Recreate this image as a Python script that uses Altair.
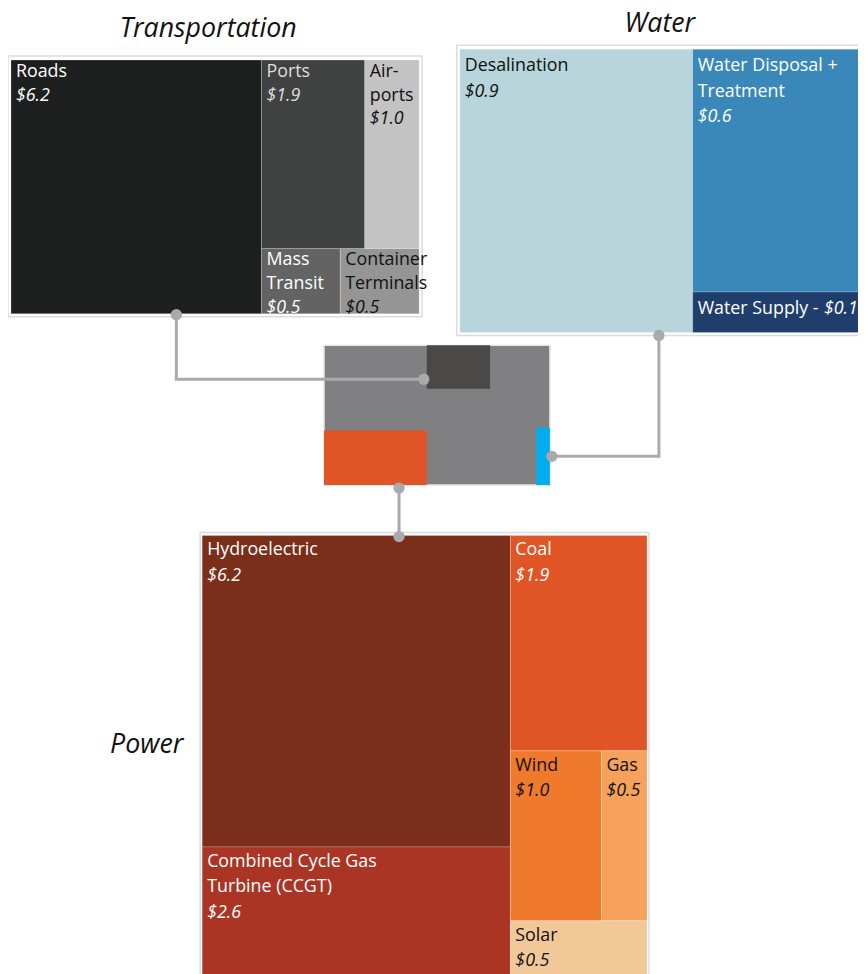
import altair as alt
import pandas as pd

# ---------------- data ----------------
transport_names = ["Roads", "Ports", "Air-\nports", "Mass\nTransit", "Container\nTerminals"]
transport_values = [6.2, 1.9, 1.0, 0.5, 0.5]

water_names = ["Desalination", "Water Disposal +\nTreatment", "Water Supply - "]
water_values = [0.9, 0.6, 0.1]

power_names = ["Hydroelectric", "Combined Cycle Gas\nTurbine (CCGT)", "Coal", "Wind", "Gas", "Solar"]
power_values = [6.2, 2.6, 1.9, 1.0, 0.5, 0.5]

# overview treemap (highlighted sectors among other, grey, sectors)
overview_names = ["Other 1", "Power", "Transportation", "Other 2", "Other 3", "Other 4", "Water"]
overview_values = [89, 57, 28, 62, 50, 27, 8]

section_titles = ["Transportation", "Water", "Power"]

# ---------------- styles ----------------
transport_colors = ["#1e1f1f", "#404141", "#c3c3c3", "#636363", "#959595"]
transport_text = ["#ffffff", "#dedede", "#111111", "#ffffff", "#111111"]
water_colors = ["#b7d5da", "#3a87b9", "#1f3e6c"]
water_text = ["#111111", "#ffffff", "#ffffff"]
power_colors = ["#7b2e19", "#aa3524", "#e05526", "#f07a2b", "#f6a25c", "#f3c898"]
power_text = ["#ffffff", "#ffffff", "#ffffff", "#111111", "#111111", "#111111"]
OTHER = "#808083"
overview_colors = [OTHER, "#e05526", "#4a4948", OTHER, OTHER, OTHER, "#00aeef"]

# tree structure (indices) for slice-and-dice layouts, root split horizontally
transport_tree = [0, [[1, 2], [3, 4]]]
water_tree = [0, [1, 2]]
power_tree = [[0, 1], [2, [3, 4], 5]]
overview_tree = [[0, 1], [2, 3], [4, [5, 6]]]

# boxes (x0, y0, x1, y1) in page pixels
transport_box = (11, 56, 423, 312)
water_box = (464, 45, 882, 331)
power_box = (204, 536, 653, 982)
overview_box = (327, 344, 555, 485)

W, H = 858, 966
X0, Y0 = 8, 8
FONT = "Open Sans"
FS = 18


def total(t, vals):
    if isinstance(t, int):
        return vals[t]
    return sum(total(c, vals) for c in t)


def layout(t, vals, x0, y0, x1, y1, horiz, out):
    if isinstance(t, int):
        out[t] = (x0, y0, x1, y1)
        return
    tots = [total(c, vals) for c in t]
    s = sum(tots)
    pos = x0 if horiz else y0
    span = (x1 - x0) if horiz else (y1 - y0)
    for c, tv in zip(t, tots):
        size = span * tv / s
        if horiz:
            layout(c, vals, pos, y0, pos + size, y1, False, out)
        else:
            layout(c, vals, x0, pos, x1, pos + size, True, out)
        pos += size


def boxes(tree, vals, box):
    out = {}
    layout(tree, vals, *box, True, out)
    return [out[i] for i in range(len(vals))]


tb = boxes(transport_tree, transport_values, transport_box)
wb = boxes(water_tree, water_values, water_box)
pb = boxes(power_tree, power_values, power_box)
ob = boxes(overview_tree, overview_values, overview_box)

rect_rows, name_rows, val_rows = [], [], []
for names, vals, bx, cols, tcols, top, lh in [
    (transport_names, transport_values, tb, transport_colors, transport_text, 17, 24),
    (water_names, water_values, wb, water_colors, water_text, 22, 26),
    (power_names, power_values, pb, power_colors, power_text, 20, 26),
]:
    for n, v, b, c, tc in zip(names, vals, bx, cols, tcols):
        rect_rows.append(dict(x=b[0], x2=b[2], y=b[1], y2=b[3], color=c))
        nlines = n.count("\n") + 1
        name_rows.append(dict(x=b[0] + 5, y=b[1] + top, label=n, color=tc, lh=lh))
        if n.endswith(" - "):
            val_rows.append(dict(x=b[0] + 5 + len(n) * 8.5, y=b[1] + top,
                                 label=f"${v:.1f}", color=tc))
        else:
            val_rows.append(dict(x=b[0] + 5, y=b[1] + top + nlines * lh,
                                 label=f"${v:.1f}", color=tc))

# grey "other" cells share one colour, so they are painted by the box fill beneath
ov_rows = [dict(x=b[0], x2=b[2], y=b[1], y2=b[3], color=c)
           for b, c in zip(ob, overview_colors) if c != OTHER]

frames = []
for bx, pad, fill in [(transport_box, 3, "white"), (water_box, 3, "white"),
                      (power_box, 2, "white")]:
    frames.append(dict(x=bx[0] - pad, x2=bx[2] + pad, y=bx[1] - pad - 1, y2=bx[3] + pad, fill=fill))
ov_frame = [dict(x=overview_box[0], x2=overview_box[2], y=overview_box[1], y2=overview_box[3])]

# connectors anchored to cells
roads, dark, blue, orange, hydro = tb[0], ob[2], ob[6], ob[1], pb[0]
c1x = roads[0] + 0.66 * (roads[2] - roads[0])
c1y = dark[1] + 0.78 * (dark[3] - dark[1])
c2x = wb[0][0] + 0.855 * (wb[0][2] - wb[0][0])
c2y = (blue[1] + blue[3]) / 2
c3x = orange[0] + 0.73 * (orange[2] - orange[0])
conn = [
    dict(cid=1, o=0, x=c1x, y=transport_box[3] + 1), dict(cid=1, o=1, x=c1x, y=c1y),
    dict(cid=1, o=2, x=dark[0] - 3, y=c1y),
    dict(cid=2, o=0, x=c2x, y=water_box[3] + 3), dict(cid=2, o=1, x=c2x, y=c2y),
    dict(cid=2, o=2, x=blue[2] + 2, y=c2y),
    dict(cid=3, o=0, x=c3x, y=overview_box[3] + 3), dict(cid=3, o=1, x=c3x, y=hydro[1] + 1),
]
dots = pd.DataFrame([r for r in conn if r["o"] in (0, 2) or (r["cid"] == 3)])

titles = pd.DataFrame([
    dict(x=210, y=33, label=section_titles[0]),
    dict(x=666, y=28, label=section_titles[1]),
    dict(x=148, y=755, label=section_titles[2]),
])

xs = alt.Scale(domain=[X0, X0 + W], nice=False, zero=False)
ys = alt.Scale(domain=[Y0, Y0 + H], nice=False, zero=False, reverse=True)
X = lambda f="x": alt.X(f"{f}:Q", scale=xs, axis=None)
Y = lambda f="y": alt.Y(f"{f}:Q", scale=ys, axis=None)

frame_l = alt.Chart(pd.DataFrame(frames)).mark_rect(
    fill="white", stroke="#dcdcdc", strokeWidth=1.5
).encode(x=X(), x2="x2:Q", y=Y(), y2="y2:Q")

ov_frame_l = alt.Chart(pd.DataFrame(ov_frame)).mark_rect(
    fill=OTHER, stroke="#e4e4e4", strokeWidth=1.5
).encode(x=X(), x2="x2:Q", y=Y(), y2="y2:Q")

rect_l = alt.Chart(pd.DataFrame(rect_rows)).mark_rect(
    stroke="white", strokeOpacity=0.22, strokeWidth=1
).encode(x=X(), x2="x2:Q", y=Y(), y2="y2:Q", color=alt.Color("color:N", scale=None))

ov_l = alt.Chart(pd.DataFrame(ov_rows)).mark_rect().encode(
    x=X(), x2="x2:Q", y=Y(), y2="y2:Q", color=alt.Color("color:N", scale=None))

name_t = alt.Chart(pd.DataFrame([r for r in name_rows if r["lh"] == 24])).mark_text(
    align="left", baseline="alphabetic", font=FONT, fontSize=FS, lineBreak="\n", lineHeight=24
).encode(x=X(), y=Y(), text="label:N", color=alt.Color("color:N", scale=None))

name_o = alt.Chart(pd.DataFrame([r for r in name_rows if r["lh"] == 26])).mark_text(
    align="left", baseline="alphabetic", font=FONT, fontSize=FS, lineBreak="\n", lineHeight=26
).encode(x=X(), y=Y(), text="label:N", color=alt.Color("color:N", scale=None))

val_l = alt.Chart(pd.DataFrame(val_rows)).mark_text(
    align="left", baseline="alphabetic", font=FONT, fontSize=FS, fontStyle="italic"
).encode(x=X(), y=Y(), text="label:N", color=alt.Color("color:N", scale=None))

line_l = alt.Chart(pd.DataFrame(conn)).mark_line(
    color="#aaaaae", strokeWidth=3
).encode(x=X(), y=Y(), detail="cid:N", order="o:Q")

dot_l = alt.Chart(dots).mark_circle(color="#aaaaae", opacity=1, size=130).encode(x=X(), y=Y())

title_l = alt.Chart(titles).mark_text(
    align="center", baseline="alphabetic", font=FONT, fontSize=27, fontStyle="italic", color="#111111"
).encode(x=X(), y=Y(), text="label:N")

chart = alt.layer(frame_l, ov_frame_l, rect_l, ov_l, line_l, name_t, name_o, val_l, dot_l,
                  title_l).properties(
    width=W, height=H, padding=0, autosize=alt.AutoSizeParams(type="none")
).configure_view(stroke=None)

chart.save("out.html", embed_options={"renderer": "svg", "actions": False})
